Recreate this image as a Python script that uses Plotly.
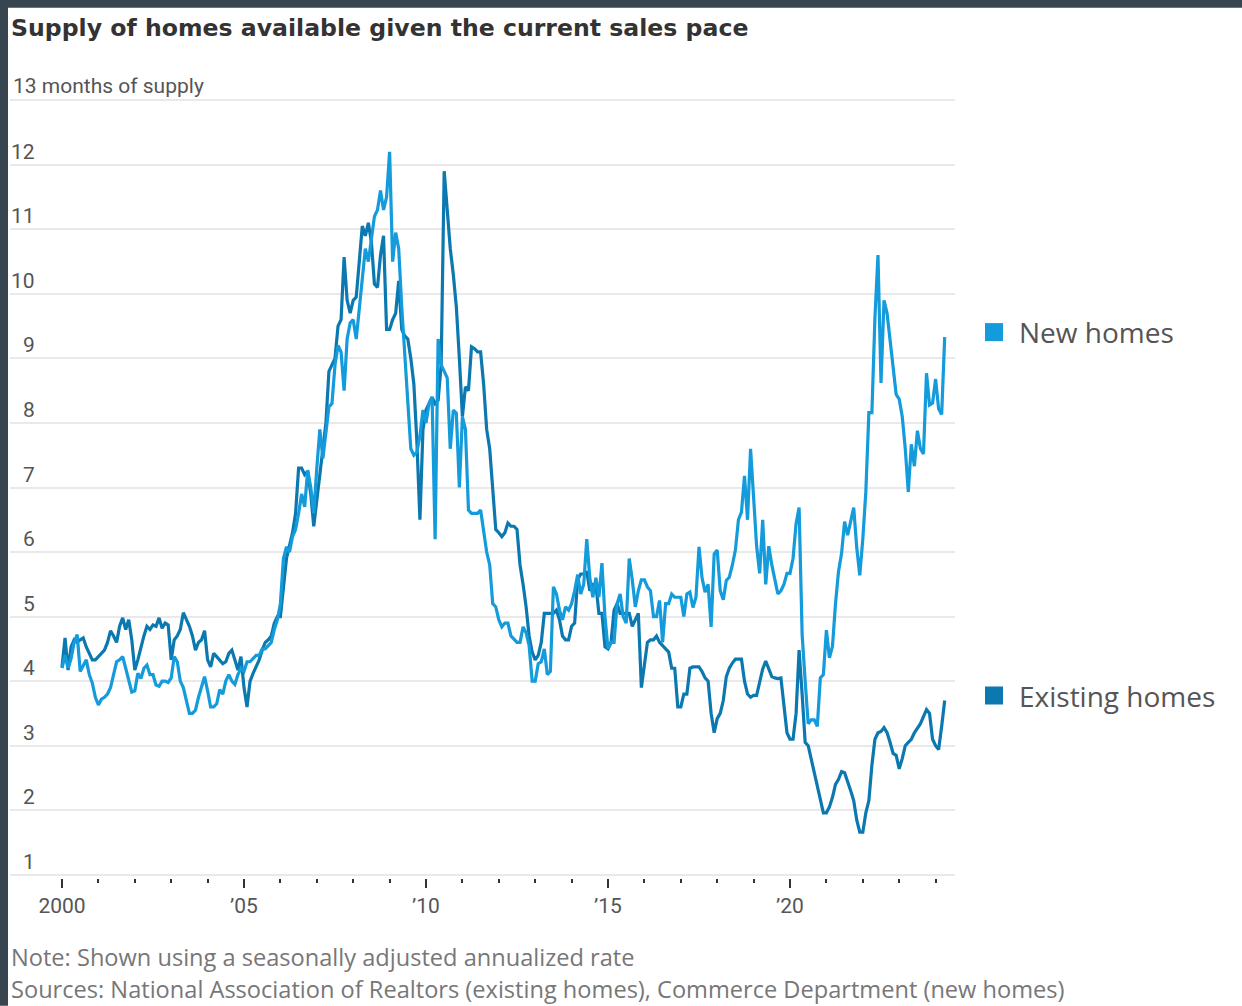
import plotly.graph_objects as go

# ---------------------------------------------------------------------------
# Monthly months-of-supply readings, January 2000 through April 2024
# ---------------------------------------------------------------------------
START_YEAR = 2000

new_homes = [
    4.2, 4.4, 4.2, 4.35, 4.6, 4.72, 4.15, 4.25, 4.33, 4.1, 3.97, 3.75,        # 2000
    3.63, 3.72, 3.75, 3.8, 3.9, 4.1, 4.3, 4.33, 4.38, 4.2, 4.0, 3.83,         # 2001
    3.85, 4.12, 4.04, 4.2, 4.25, 4.1, 4.1, 3.94, 3.92, 4.0, 4.0, 3.98,        # 2002
    4.05, 4.38, 4.3, 4.0, 3.9, 3.7, 3.5, 3.5, 3.55, 3.75, 3.9, 4.07,          # 2003
    3.85, 3.6, 3.6, 3.65, 3.87, 3.8, 4.0, 4.1, 4.0, 3.95, 4.1, 4.2,           # 2004
    4.15, 4.3, 4.3, 4.35, 4.4, 4.4, 4.5, 4.5, 4.55, 4.6, 4.8, 4.95,           # 2005
    5.2, 5.9, 6.08, 6.0, 6.24, 6.35, 6.6, 6.9, 6.7, 7.27, 7.0, 6.6,           # 2006
    7.3, 7.9, 7.45, 7.9, 8.25, 8.3, 8.9, 9.2, 9.1, 8.5, 9.3, 9.55,            # 2007
    9.6, 9.3, 9.8, 10.3, 10.7, 10.5, 10.9, 11.2, 11.3, 11.6, 11.3, 11.5,      # 2008
    12.2, 10.5, 10.95, 10.7, 9.8, 9.0, 8.3, 7.6, 7.5, 7.55, 7.8, 8.2,         # 2009
    8.0, 8.3, 8.4, 6.2, 9.3, 8.9, 8.8, 8.7, 7.6, 8.2, 8.15, 7.0,              # 2010
    8.1, 7.9, 6.65, 6.6, 6.6, 6.6, 6.65, 6.3, 6.0, 5.8, 5.2, 5.15,            # 2011
    4.95, 4.84, 4.9, 4.9, 4.7, 4.65, 4.6, 4.6, 4.84, 4.75, 4.55, 4.0,         # 2012
    4.0, 4.27, 4.3, 4.5, 4.1, 4.15, 5.46, 5.35, 5.1, 4.95, 5.15, 5.1,         # 2013
    5.2, 5.4, 5.65, 5.35, 5.5, 6.2, 5.6, 5.3, 5.6, 5.3, 5.83, 5.0,            # 2014
    4.5, 4.6, 4.6, 5.2, 5.35, 5.0, 4.9, 5.9, 5.57, 5.15, 5.4, 5.57,           # 2015
    5.57, 5.46, 5.4, 5.0, 5.0, 5.25, 4.6, 5.2, 5.2, 5.35, 5.3, 5.3,           # 2016
    5.3, 5.0, 5.35, 5.38, 5.14, 5.3, 6.08, 5.6, 5.38, 5.5, 4.84, 5.97,        # 2017
    6.03, 5.4, 5.26, 5.56, 5.61, 5.8, 6.03, 6.5, 6.62, 7.18, 6.5, 7.6,        # 2018
    6.92, 6.09, 5.67, 6.5, 5.5, 6.09, 5.8, 5.56, 5.35, 5.4, 5.5, 5.67,        # 2019
    5.67, 5.9, 6.44, 6.69, 4.72, 4.0, 3.34, 3.4, 3.4, 3.3, 4.05, 4.1,         # 2020
    4.79, 4.36, 4.54, 5.2, 5.7, 5.98, 6.47, 6.26, 6.5, 6.69, 6.07, 5.64,      # 2021
    6.2, 6.93, 8.16, 8.16, 9.63, 10.6, 8.62, 9.9, 9.7, 9.3, 8.8, 8.44,        # 2022
    8.37, 8.1, 7.6, 6.93, 7.67, 7.33, 7.88, 7.6, 7.52, 8.77, 8.28, 8.31,      # 2023
    8.68, 8.22, 8.13, 9.33,                                                   # 2024
]

existing_homes = [
    4.22, 4.67, 4.17, 4.53, 4.64, 4.6, 4.64, 4.67, 4.53, 4.43, 4.33, 4.33,    # 2000
    4.38, 4.43, 4.48, 4.6, 4.78, 4.7, 4.6, 4.85, 4.98, 4.8, 4.95, 4.64,       # 2001
    4.17, 4.33, 4.53, 4.7, 4.85, 4.8, 4.87, 4.85, 4.98, 4.82, 4.9, 4.87,      # 2002
    4.33, 4.64, 4.7, 4.8, 5.06, 4.95, 4.85, 4.7, 4.48, 4.6, 4.64, 4.78,       # 2003
    4.33, 4.22, 4.43, 4.38, 4.33, 4.27, 4.3, 4.43, 4.48, 4.33, 4.17, 4.38,    # 2004
    3.9, 3.6, 4.0, 4.12, 4.22, 4.33, 4.48, 4.6, 4.64, 4.7, 4.9, 5.0,          # 2005
    5.0, 5.5, 5.9, 6.1, 6.3, 6.6, 7.3, 7.3, 7.2, 7.25, 6.9, 6.4,              # 2006
    6.8, 7.2, 7.5, 8.0, 8.8, 8.9, 9.0, 9.5, 9.6, 10.57, 9.9, 9.7,             # 2007
    9.9, 9.95, 10.5, 11.05, 10.9, 11.1, 10.8, 10.15, 10.1, 10.6, 10.9, 9.45,  # 2008
    9.45, 9.6, 9.7, 10.2, 9.45, 9.35, 9.3, 9.0, 8.6, 7.7, 6.5, 7.9,           # 2009
    8.2, 8.3, 8.4, 8.3, 8.35, 8.9, 11.9, 11.3, 10.7, 10.3, 9.8, 9.0,          # 2010
    8.1, 8.56, 8.5, 9.18, 9.15, 9.1, 9.1, 8.6, 7.9, 7.6, 7.0, 6.35,           # 2011
    6.3, 6.24, 6.3, 6.45, 6.4, 6.4, 6.35, 5.8, 5.5, 5.15, 4.7, 4.45,          # 2012
    4.33, 4.4, 4.6, 5.05, 5.05, 5.05, 5.05, 5.1, 4.95, 4.7, 4.64, 4.64,       # 2013
    4.85, 4.9, 5.57, 5.66, 5.66, 5.7, 5.4, 5.5, 5.5, 5.05, 5.05, 4.53,        # 2014
    4.5, 4.6, 5.1, 5.2, 5.05, 5.05, 5.05, 5.05, 4.85, 4.95, 5.05, 3.9,        # 2015
    4.27, 4.6, 4.64, 4.64, 4.7, 4.6, 4.55, 4.5, 4.45, 4.2, 4.2, 3.6,          # 2016
    3.6, 3.8, 3.8, 4.2, 4.22, 4.22, 4.22, 4.15, 4.05, 4.0, 3.5, 3.2,          # 2017
    3.42, 3.5, 3.7, 4.07, 4.2, 4.28, 4.34, 4.34, 4.34, 4.0, 3.8, 3.75,        # 2018
    3.78, 3.78, 4.0, 4.19, 4.31, 4.2, 4.07, 4.05, 4.04, 4.05, 3.6, 3.2,       # 2019
    3.1, 3.1, 3.5, 4.48, 3.8, 3.05, 3.0, 2.8, 2.6, 2.35, 2.15, 1.96,          # 2020
    1.96, 2.05, 2.2, 2.4, 2.48, 2.6, 2.58, 2.45, 2.3, 2.15, 1.85, 1.66,       # 2021
    1.66, 1.96, 2.15, 2.7, 3.1, 3.2, 3.22, 3.28, 3.2, 3.05, 2.88, 2.85,       # 2022
    2.64, 2.8, 3.0, 3.05, 3.1, 3.2, 3.28, 3.34, 3.45, 3.56, 3.5, 3.1,         # 2023
    3.0, 2.94, 3.3, 3.7,                                                      # 2024
]

# decimal-year positions of the monthly readings
months_new = [START_YEAR + i / 12 for i in range(len(new_homes))]
months_existing = [START_YEAR + i / 12 for i in range(len(existing_homes))]

SERIES_NAMES = ["New homes", "Existing homes"]
SERIES_COLORS = ["#139bdb", "#0b78b0"]

Y_TICKS = list(range(1, 14))
Y_TICK_TEXT = [str(v) for v in Y_TICKS[:-1]] + ["13 months of supply"]

X_MAJOR = [2000, 2005, 2010, 2015, 2020]
X_MAJOR_TEXT = ["2000", "\u201905", "\u201910", "\u201915", "\u201920"]
X_MINOR = [y for y in range(2001, 2025) if y not in X_MAJOR]

TITLE = "Supply of homes available given the current sales pace"
NOTE = "Note: Shown using a seasonally adjusted annualized rate"
SOURCE = ("Sources: National Association of Realtors (existing homes), "
          "Commerce Department (new homes)")

# ---------------------------------------------------------------------------
# Page geometry (pixels)
# ---------------------------------------------------------------------------
W, H = 1242, 1006
PLOT_LEFT, PLOT_RIGHT = 10, 955
Y_RANGE = [0.95, 13.05]
PX_PER_UNIT = 64.55
PLOT_TOP = 100.4 - (Y_RANGE[1] - 13) * PX_PER_UNIT
PLOT_BOTTOM = 875 + (1 - Y_RANGE[0]) * PX_PER_UNIT
PX_PER_YEAR = 36.4
X_RANGE = [2000 - (62 - PLOT_LEFT) / PX_PER_YEAR,
           2000 + (PLOT_RIGHT - 62) / PX_PER_YEAR]


def px_x(p):
    return (p - PLOT_LEFT) / (PLOT_RIGHT - PLOT_LEFT)


def px_y(p):
    return (PLOT_BOTTOM - p) / (PLOT_BOTTOM - PLOT_TOP)


LABEL_FONT = "Roboto"
TEXT_FONT = "Open Sans"
TITLE_FONT = "DejaVu Sans"

fig = go.Figure()

fig.add_trace(go.Scatter(
    x=months_existing, y=existing_homes, mode="lines", name=SERIES_NAMES[1],
    line=dict(color=SERIES_COLORS[1], width=3.2), showlegend=False,
    hoverinfo="skip",
))
fig.add_trace(go.Scatter(
    x=months_new, y=new_homes, mode="lines", name=SERIES_NAMES[0],
    line=dict(color=SERIES_COLORS[0], width=3.2), showlegend=False,
    hoverinfo="skip",
))

annotations = []

# y-axis labels sitting just above their gridlines
for v, txt in zip(Y_TICKS, Y_TICK_TEXT):
    if v == 13:
        annotations.append(dict(
            x=px_x(11), xref="paper", xanchor="left", y=v, yref="y",
            yanchor="middle", yshift=14, text=txt, showarrow=False,
            font=dict(family=LABEL_FONT, size=21, color="#555555")))
    else:
        annotations.append(dict(
            x=px_x(37), xref="paper", xanchor="right", y=v, yref="y",
            yanchor="middle", yshift=13, text=txt, showarrow=False,
            font=dict(family=LABEL_FONT, size=21, color="#555555")))

# end-of-line series labels with colour keys
last_values = [new_homes[-1], existing_homes[-1]]
shapes = []
for name, color, last in zip(SERIES_NAMES, SERIES_COLORS, last_values):
    annotations.append(dict(
        x=px_x(1017), xref="paper", xanchor="left", y=last, yref="y",
        yanchor="middle", yshift=5, text=name, showarrow=False,
        font=dict(family=TEXT_FONT, size=28, color="#555555")))
    shapes.append(dict(
        type="rect", xref="paper", yref="y", layer="above",
        xsizemode="pixel", ysizemode="pixel",
        xanchor=px_x(994), yanchor=last,
        x0=-9, x1=9, y0=-4, y1=14,
        fillcolor=color, line=dict(width=0)))

# title and footnotes
annotations.append(dict(
    x=px_x(9), xref="paper", xanchor="left", y=px_y(28), yref="paper",
    yanchor="middle", text="<b>" + TITLE + "</b>", showarrow=False,
    font=dict(family=TITLE_FONT, size=23.6, color="#333333")))
annotations.append(dict(
    x=px_x(9), xref="paper", xanchor="left", y=px_y(957), yref="paper",
    yanchor="middle", text=NOTE, showarrow=False,
    font=dict(family=TEXT_FONT, size=23.6, color="#777777")))
annotations.append(dict(
    x=px_x(9), xref="paper", xanchor="left", y=px_y(989), yref="paper",
    yanchor="middle", text=SOURCE, showarrow=False,
    font=dict(family=TEXT_FONT, size=23.6, color="#777777")))

# dark page frame along the top and left edges
frame = "#36454f"
shapes.append(dict(type="rect", xref="paper", yref="paper", layer="above",
                   x0=px_x(0), x1=px_x(W), y0=px_y(8), y1=px_y(0),
                   fillcolor=frame, line=dict(width=0)))
shapes.append(dict(type="rect", xref="paper", yref="paper", layer="above",
                   x0=px_x(0), x1=px_x(8), y0=px_y(H), y1=px_y(0),
                   fillcolor=frame, line=dict(width=0)))

fig.update_layout(
    width=W, height=H,
    margin=dict(l=PLOT_LEFT, r=W - PLOT_RIGHT, t=PLOT_TOP, b=H - PLOT_BOTTOM,
                pad=0),
    paper_bgcolor="white", plot_bgcolor="white",
    annotations=annotations, shapes=shapes,
    showlegend=False,
)

fig.update_xaxes(
    range=X_RANGE, showgrid=False, zeroline=False, showline=False,
    tickmode="array", tickvals=X_MAJOR, ticktext=X_MAJOR_TEXT,
    ticks="outside", ticklen=9, tickwidth=1.5, tickcolor="#333333",
    tickfont=dict(family=LABEL_FONT, size=21, color="#555555"),
    minor=dict(tickmode="array", tickvals=X_MINOR, ticks="outside",
               ticklen=4, tickwidth=1.5, tickcolor="#333333"),
)
fig.update_yaxes(
    range=Y_RANGE, tickmode="array", tickvals=Y_TICKS, showticklabels=False,
    showgrid=True, gridcolor="#e9e9e9", gridwidth=2, zeroline=False,
    showline=False, ticks="",
)

fig.write_html("out.html")
